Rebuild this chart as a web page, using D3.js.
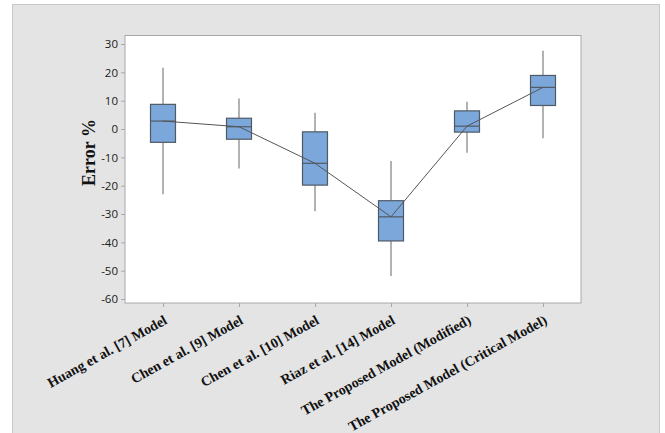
<!DOCTYPE html>
<html>
<head>
<meta charset="utf-8">
<script src="https://cdn.jsdelivr.net/npm/d3@7"></script>
<style>
  html, body { margin: 0; padding: 0; background: #ffffff; }
  svg { display: block; }
</style>
</head>
<body>
<svg id="chart" width="665" height="433"></svg>
<script>
// ---- Data ----
const categories = [
  "Huang et al. [7] Model",
  "Chen et al. [9] Model",
  "Chen et al. [10] Model",
  "Riaz et al. [14] Model",
  "The Proposed Model (Modified)",
  "The Proposed Model (Critical Model)"
];
const whiskerHigh = [21.6, 10.8, 5.7, -11.3, 9.6, 27.6];
const q3Values    = [8.7, 3.8, -1.0, -25.3, 6.4, 18.9];
const medians     = [2.8, 0.8, -12.1, -31.0, 1.0, 14.7];
const q1Values    = [-4.7, -3.6, -19.8, -39.5, -1.1, 8.3];
const whiskerLow  = [-23.0, -13.9, -29.0, -51.9, -8.4, -3.3];
const yTicks = [30, 20, 10, 0, -10, -20, -30, -40, -50, -60];
const yTitle = "Error %";

const boxes = categories.map((c, i) => ({
  cat: c, hi: whiskerHigh[i], q3: q3Values[i], med: medians[i], q1: q1Values[i], lo: whiskerLow[i]
}));

// ---- Layout ----
const svg = d3.select("#chart");
const plot = { left: 125, right: 581, top: 35.5, bottom: 303 };

// grey panel
svg.append("rect")
  .attr("x", 12.5).attr("y", 4.5).attr("width", 647).attr("height", 450)
  .attr("fill", "#e4e4e4").attr("stroke", "#c8c8c8").attr("stroke-width", 1);

// plot area
svg.append("rect")
  .attr("x", plot.left).attr("y", plot.top)
  .attr("width", plot.right - plot.left).attr("height", plot.bottom - plot.top)
  .attr("fill", "#ffffff").attr("stroke", "#a8a8a8").attr("stroke-width", 1);

const x = d3.scalePoint().domain(categories).range([plot.left, plot.right]).padding(0.5);
const y = d3.scaleLinear().domain([-61.4, 33.0]).range([plot.bottom, plot.top]);

// Y axis
const yAxis = svg.append("g")
  .attr("transform", `translate(${plot.left},0)`)
  .call(d3.axisLeft(y).tickValues(yTicks).tickSize(4).tickPadding(3).tickFormat(d => String(d)));
yAxis.select(".domain").remove();
yAxis.selectAll(".tick line").attr("stroke", "#a8a8a8");
yAxis.selectAll(".tick text")
  .attr("fill", "#1a1a1a")
  .style("font-family", "'Open Sans', 'Noto Sans', sans-serif")
  .style("font-size", "11.5px");

// X axis
const xAxis = svg.append("g")
  .attr("transform", `translate(0,${plot.bottom})`)
  .call(d3.axisBottom(x).tickSize(4).tickFormat(""));
xAxis.select(".domain").remove();
xAxis.selectAll(".tick line").attr("stroke", "#a8a8a8");

// rotated category labels
svg.append("g").selectAll("text")
  .data(categories)
  .join("text")
  .attr("transform", d => `translate(${x(d) + 5},${plot.bottom + 20}) rotate(-29)`)
  .attr("text-anchor", "end")
  .style("font-family", "'Liberation Serif', 'Times New Roman', serif")
  .style("font-weight", "bold")
  .style("font-size", "14px")
  .attr("fill", "#111")
  .text(d => d);

// Y title
svg.append("text")
  .attr("transform", `translate(94.5,${152.5}) rotate(-90)`)
  .attr("text-anchor", "middle")
  .style("font-family", "'Liberation Serif', 'Times New Roman', serif")
  .style("font-weight", "bold")
  .style("font-size", "18px")
  .attr("fill", "#111")
  .text(yTitle);

// ---- Boxes ----
const bw = 25;
const g = svg.append("g");

// whiskers
g.selectAll(".whisk-hi").data(boxes).join("line")
  .attr("x1", d => x(d.cat)).attr("x2", d => x(d.cat))
  .attr("y1", d => y(d.hi)).attr("y2", d => y(d.q3))
  .attr("stroke", "#7f7f7f").attr("stroke-width", 1.2);
g.selectAll(".whisk-lo").data(boxes).join("line")
  .attr("x1", d => x(d.cat)).attr("x2", d => x(d.cat))
  .attr("y1", d => y(d.q1)).attr("y2", d => y(d.lo))
  .attr("stroke", "#7f7f7f").attr("stroke-width", 1.2);

// boxes
g.selectAll(".box").data(boxes).join("rect")
  .attr("x", d => x(d.cat) - bw / 2)
  .attr("y", d => y(d.q3))
  .attr("width", bw)
  .attr("height", d => y(d.q1) - y(d.q3))
  .attr("fill", "#7ba7db")
  .attr("stroke", "#505a64").attr("stroke-width", 1.2);

// median lines
g.selectAll(".med").data(boxes).join("line")
  .attr("x1", d => x(d.cat) - bw / 2).attr("x2", d => x(d.cat) + bw / 2)
  .attr("y1", d => y(d.med)).attr("y2", d => y(d.med))
  .attr("stroke", "#505a64").attr("stroke-width", 1.2);

// connect line
const line = d3.line().x(d => x(d.cat)).y(d => y(d.med));
g.append("path").datum(boxes)
  .attr("d", line)
  .attr("fill", "none")
  .attr("stroke", "#555555").attr("stroke-width", 1);
</script>
</body>
</html>
